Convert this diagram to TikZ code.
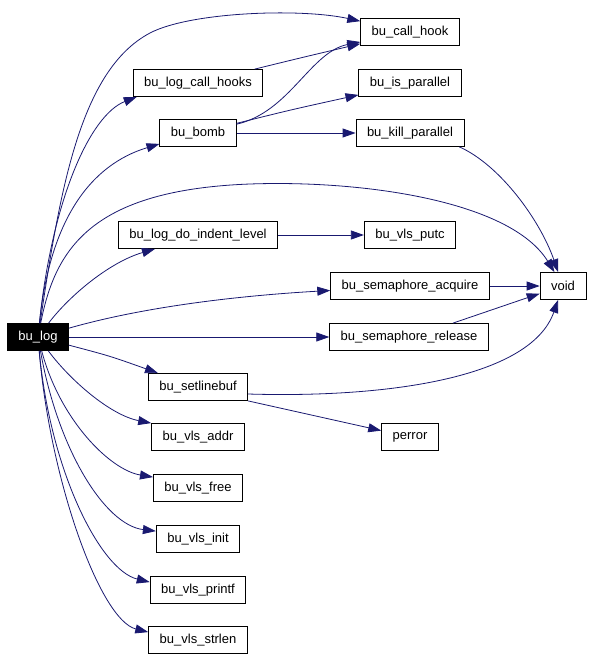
\documentclass[tikz,border=0pt]{standalone}
\usepackage{fontspec}
\setmainfont{Liberation Sans}
\usetikzlibrary{arrows.meta}
\definecolor{callblue}{HTML}{191970}
\newcommand{\fnfont}{\fontsize{13}{15}\selectfont}
\begin{document}
\begin{tikzpicture}[x=1pt,y=-1pt,
        fn/.style={draw,line width=0.8pt,minimum height=27pt,inner xsep=11pt,inner ysep=0pt,font=\fnfont},
        root/.style={fn,fill=black,text=white},
        link/.style={draw=callblue,line width=0.8pt,-{Triangle[length=13pt,width=9pt]}}]
            \useasboundingbox (0,0) rectangle (592,659);

            \node[root] (log) at (38,337) {bu\_log};

            \node[fn] (callhooks) at (198,83) {bu\_log\_call\_hooks};
            \node[fn] (bomb) at (198,133) {bu\_bomb};
            \node[fn] (indent) at (198,235) {bu\_log\_do\_indent\_level};
            \node[fn] (linebuf) at (198,387) {bu\_setlinebuf};

            \foreach \n/\t/\y in {addr/addr/437,free/free/488,init/init/539,printf/printf/590,strlen/strlen/640}
                {\node[fn] (\n) at (198,\y) {bu\_vls\_\t};}

            \node[fn] (hook) at (410,32) {bu\_call\_hook};
            \node[fn] (ispar) at (410,83) {bu\_is\_parallel};
            \node[fn] (killpar) at (410,133) {bu\_kill\_parallel};
            \node[fn] (putc) at (410,235) {bu\_vls\_putc};
            \node[fn] (acquire) at (410,286) {bu\_semaphore\_acquire};
            \node[fn] (release) at (409,337) {bu\_semaphore\_release};
            \node[fn] (perror) at (410,437) {perror};
            \node[fn] (void) at (563,286) {void};

            \draw[link] (log) .. controls (60,190) and (80,70) .. (150,33) .. controls (190,12) and (300,8) .. (hook);
            \draw[link] (log) .. controls (52,200) and (90,115) .. ([xshift=4pt]callhooks.south west);
            \draw[link] (log) .. controls (50,220) and (90,165) .. ([yshift=3pt]bomb.south west);
            \draw[link] (log) .. controls (55,250) and (90,190) .. (250,184) .. controls (360,180) and (510,200) .. (void);
            \draw[link] (log) .. controls (70,295) and (110,262) .. ([xshift=-43pt]indent.south);
            \draw[link] (log) .. controls (150,305) and (250,295) .. (acquire);
            \draw[link] (log) -- (release);
            \draw[link] (log) .. controls (110,356) .. ([xshift=-40pt]linebuf.north);
            \draw[link] (log) .. controls (70,380) and (110,415) .. (addr.north west);
            \draw[link] (log) .. controls (60,420) and (110,470) .. ([yshift=-3pt]free.north west);
            \draw[link] (log) .. controls (58,450) and (105,525) .. ([yshift=-6pt]init.north west);
            \draw[link] (log) .. controls (50,470) and (100,570) .. ([yshift=-6pt]printf.north west);
            \draw[link] (log) .. controls (50,480) and (100,620) .. ([yshift=-6pt]strlen.north west);

            \draw[link] (callhooks) .. controls (300,58) .. (hook);
            \draw[link] (bomb) .. controls (290,112) and (310,52) .. (hook);
            \draw[link] (bomb) .. controls (290,110) .. ([yshift=2pt]ispar.south west);
            \draw[link] (bomb) -- (killpar);
            \draw[link] ([xshift=-5pt]killpar.south east) .. controls (500,165) and (540,220) .. (void);
            \draw[link] (indent) -- (putc);
            \draw[link] (acquire) -- (void);
            \draw[link] ([xshift=44pt]release.north) .. controls (490,310) .. (void);
            \draw[link] ([yshift=-7pt]linebuf.east) .. controls (380,398) and (530,380) .. (void);
            \draw[link] (linebuf.south east) -- (perror);
        \end{tikzpicture}
\end{document}
